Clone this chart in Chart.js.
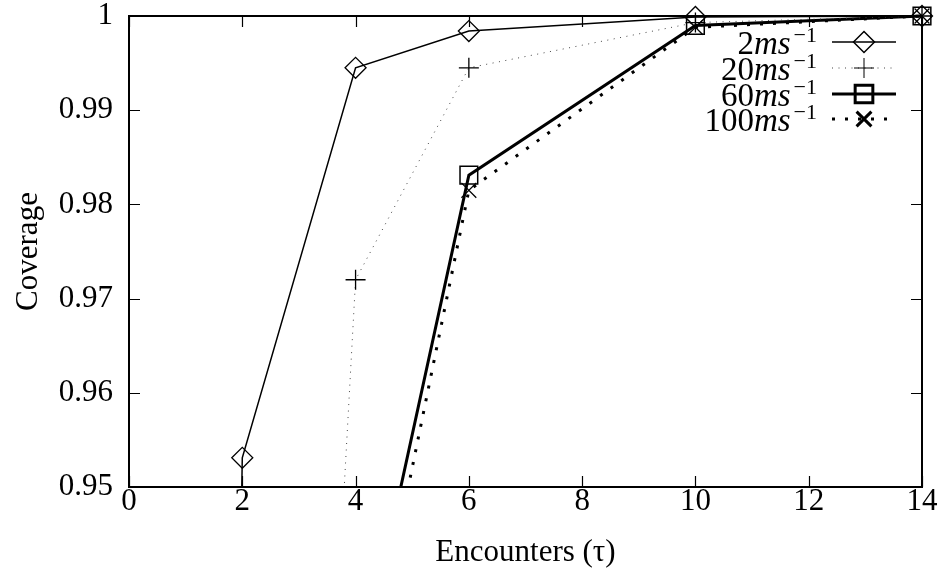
<!DOCTYPE html>
<html>
<head>
<meta charset="utf-8">
<script src="https://cdn.jsdelivr.net/npm/chart.js@4.4.0/dist/chart.umd.min.js"></script>
<style>
  html, body { margin: 0; padding: 0; background: #fff; }
  #wrap { width: 946px; height: 574px; }
</style>
</head>
<body>
<div id="wrap"><canvas id="myChart" width="946" height="574"></canvas></div>
<script>
// speeds shown in the legend (m s^-1)
const speeds = ["2", "20", "60", "100"];

// encounters (x) and coverage (y) for each speed
// the first point of each series lies below 0.95, only its line into the frame shows
const enc2 = [0, 2, 4, 6, 10, 14];
const cov2 = [0.25, 0.9531, 0.9945, 0.9984, 0.9999, 1.0];
const enc20 = [2, 4, 6, 10, 14];
const cov20 = [0.752, 0.9720, 0.9945, 0.9993, 1.0];
const enc60 = [4, 6, 10, 14];
const cov60 = [0.928, 0.9831, 0.9990, 1.0];
const enc100 = [4, 6, 10, 14];
const cov100 = [0.9226, 0.9815, 0.9988, 1.0];

const xTicks = [0, 2, 4, 6, 8, 10, 12, 14];
const yTicks = [0.95, 0.96, 0.97, 0.98, 0.99, 1];

const FONT = '"Liberation Serif", "Times New Roman", serif';

function pts(xs, ys) {
  return xs.map((x, i) => ({ x: x, y: ys[i] }));
}

const noClipTop = { left: false, top: false, right: false, bottom: 0 };

const datasets = [
  {
    label: speeds[0], data: pts(enc2, cov2),
    borderColor: "#000", borderWidth: 1.5,
    pointStyle: "rectRot", pointRadius: 10.5, pointBorderWidth: 1.3
  },
  {
    label: speeds[1], data: pts(enc20, cov20),
    borderColor: "#444", borderWidth: 1, borderDash: [1, 5.5],
    pointStyle: "cross", pointRadius: 10, pointBorderWidth: 1.3
  },
  {
    label: speeds[2], data: pts(enc60, cov60),
    borderColor: "#000", borderWidth: 3,
    pointStyle: "rect", pointRadius: 12.5, pointBorderWidth: 1.5
  },
  {
    label: speeds[3], data: pts(enc100, cov100),
    borderColor: "#000", borderWidth: 3, borderDash: [3, 10],
    pointStyle: "crossRot", pointRadius: 10.5, pointBorderWidth: 1.3
  }
];
datasets.forEach(d => {
  d.pointBorderColor = "#000";
  d.pointBackgroundColor = "rgba(0,0,0,0)";
  d.tension = 0;
  d.fill = false;
  d.clip = noClipTop;
});

// gnuplot-like frame with inward ticks on all four sides
const framePlugin = {
  id: "frame",
  beforeDatasetsDraw(chart) {
    const ctx = chart.ctx;
    const a = chart.chartArea;
    const xs = chart.scales.x, ys = chart.scales.y;
    const len = 11;
    ctx.save();
    ctx.strokeStyle = "#000";
    ctx.lineWidth = 1.2;
    ctx.beginPath();
    xTicks.forEach(v => {
      const px = Math.round(xs.getPixelForValue(v)) + 0.5;
      ctx.moveTo(px, a.bottom); ctx.lineTo(px, a.bottom - len);
      ctx.moveTo(px, a.top); ctx.lineTo(px, a.top + len);
    });
    yTicks.forEach(v => {
      const py = Math.round(ys.getPixelForValue(v)) + 0.5;
      ctx.moveTo(a.left, py); ctx.lineTo(a.left + len, py);
      ctx.moveTo(a.right, py); ctx.lineTo(a.right - len, py);
    });
    ctx.stroke();
    ctx.lineWidth = 2;
    ctx.strokeRect(a.left, a.top, a.right - a.left, a.bottom - a.top);
    ctx.restore();
  }
};

// legend: right-aligned "N ms^-1" text, then a line sample with its marker
function drawSpeedText(ctx, num, xr, yb) {
  ctx.font = "22px " + FONT;
  const wSup = ctx.measureText("\u22121").width;
  ctx.font = "italic 33px " + FONT;
  const wMs = ctx.measureText("ms").width;
  ctx.font = "33px " + FONT;
  const wNum = ctx.measureText(num).width;
  let x = xr - wSup - wMs - wNum - 3;
  ctx.fillStyle = "#000";
  ctx.textBaseline = "alphabetic";
  ctx.textAlign = "left";
  ctx.fillText(num, x, yb);
  x += wNum;
  ctx.font = "italic 33px " + FONT;
  ctx.fillText("ms", x, yb);
  x += wMs + 3;
  ctx.font = "22px " + FONT;
  ctx.fillText("\u22121", x, yb - 12);
}

const legendPlugin = {
  id: "speedLegend",
  afterDatasetsDraw(chart) {
    const ctx = chart.ctx;
    const rowY = [42, 68, 94, 119];
    chart.data.datasets.forEach((d, i) => {
      const y = rowY[i];
      ctx.save();
      drawSpeedText(ctx, d.label, 817, y + 12);
      ctx.strokeStyle = d.borderColor;
      ctx.lineWidth = d.borderWidth;
      ctx.setLineDash(d.borderDash || []);
      ctx.beginPath();
      ctx.moveTo(832, y);
      ctx.lineTo(896, y);
      ctx.stroke();
      ctx.setLineDash([]);
      ctx.strokeStyle = "#000";
      ctx.fillStyle = "rgba(0,0,0,0)";
      Chart.helpers.drawPoint(ctx, {
        pointStyle: d.pointStyle, radius: d.pointRadius,
        rotation: 0, borderWidth: d.pointBorderWidth
      }, 864, y);
      ctx.restore();
    });
  }
};

new Chart(document.getElementById("myChart"), {
  type: "line",
  data: { datasets: datasets },
  options: {
    responsive: false,
    animation: false,
    devicePixelRatio: 1,
    layout: { padding: { top: 16, right: 24, left: 0, bottom: 0 } },
    plugins: {
      legend: { display: false },
      tooltip: { enabled: false }
    },
    scales: {
      x: {
        type: "linear", min: 0, max: 14,
        afterBuildTicks: s => { s.ticks = xTicks.map(v => ({ value: v })); },
        afterFit: s => { s.height = 87; s.paddingLeft = 0; s.paddingRight = 0; },
        grid: { display: false, drawTicks: false },
        border: { display: false },
        ticks: { color: "#000", font: { family: FONT, size: 31 }, padding: -4, maxRotation: 0 },
        title: {
          display: true, text: "Encounters (\u03c4)", color: "#000",
          font: { family: FONT, size: 31 }, padding: { top: 0, bottom: 3 }
        }
      },
      y: {
        type: "linear", min: 0.95, max: 1,
        afterBuildTicks: s => { s.ticks = yTicks.map(v => ({ value: v })); },
        afterFit: s => { s.width = 129; s.paddingTop = 0; s.paddingBottom = 0; },
        grid: { display: false, drawTicks: false },
        border: { display: false },
        ticks: {
          color: "#000", font: { family: FONT, size: 31 }, padding: 16,
          callback: v => String(v)
        },
        title: {
          display: true, text: "Coverage", color: "#000",
          font: { family: FONT, size: 31 }, padding: { top: 10, bottom: 0 }
        }
      }
    }
  },
  plugins: [framePlugin, legendPlugin]
});
</script>
</body>
</html>
